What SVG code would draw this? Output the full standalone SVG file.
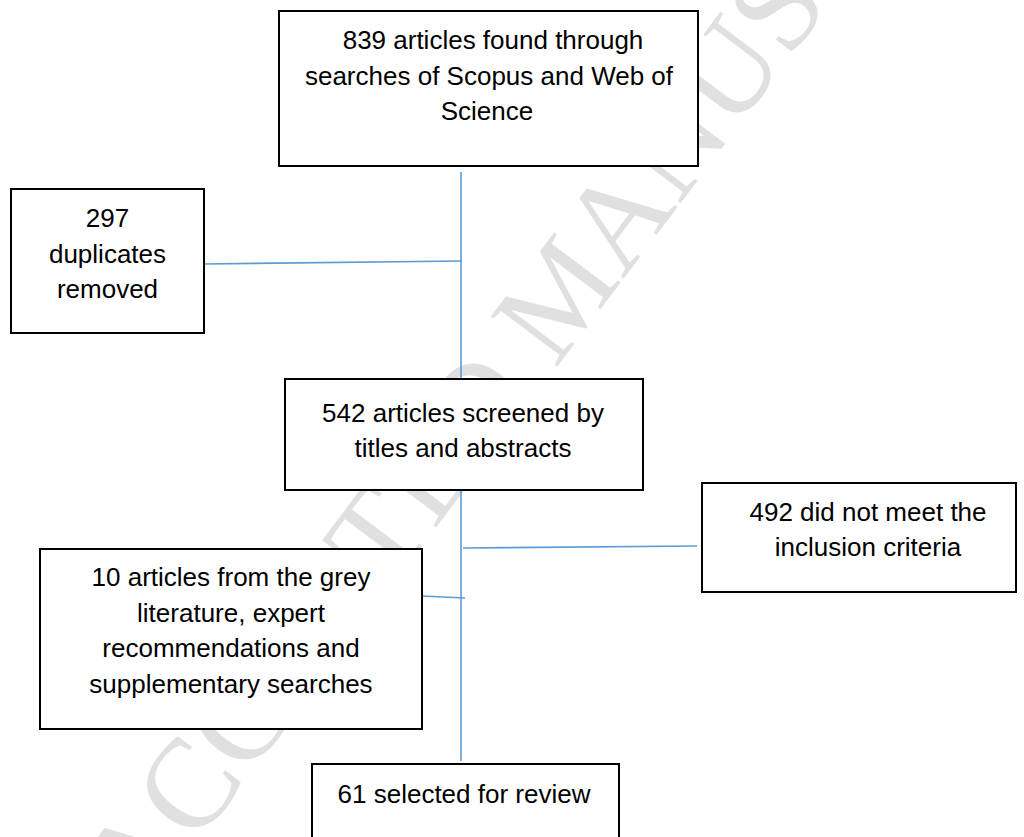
<svg xmlns="http://www.w3.org/2000/svg" width="1024" height="837" viewBox="0 0 1024 837">
  <style>
    .box { fill: #ffffff; stroke: #000000; stroke-width: 2; }
    .lbl { font-family: "Liberation Sans", Arial, sans-serif; font-size: 26px; fill: #000000; text-anchor: middle; }
    .conn { stroke: #5b9bd5; stroke-width: 1.6; fill: none; }
    .wm { font-family: "Liberation Serif", "Times New Roman", serif; font-size: 127px; fill: #e0e0e0; }
  </style>
  <rect x="0" y="0" width="1024" height="837" fill="#ffffff"/>
  <g id="watermark" transform="translate(141,919) rotate(-53)">
    <text class="wm" x="0" y="0">ACCEPTED MANUSCRIPT</text>
  </g>
  <g id="connectors">
    <line class="conn" x1="461" y1="172" x2="461" y2="761"/>
    <line class="conn" x1="204" y1="264" x2="462" y2="261"/>
    <line class="conn" x1="463" y1="548" x2="697" y2="546"/>
    <line class="conn" x1="422" y1="596" x2="465" y2="598"/>
  </g>
  <g id="n1">
    <rect class="box" x="279" y="11" width="419" height="155"/>
    <text class="lbl" x="493" y="49">839 articles found through</text>
    <text class="lbl" x="489" y="84.5">searches of Scopus and Web of</text>
    <text class="lbl" x="487" y="120">Science</text>
  </g>
  <g id="n2">
    <rect class="box" x="11" y="189" width="193" height="144"/>
    <text class="lbl" x="107.5" y="227">297</text>
    <text class="lbl" x="107.5" y="263">duplicates</text>
    <text class="lbl" x="107.5" y="298">removed</text>
  </g>
  <g id="n3">
    <rect class="box" x="285" y="379" width="358" height="111"/>
    <text class="lbl" x="463" y="422">542 articles screened by</text>
    <text class="lbl" x="463" y="457">titles and abstracts</text>
  </g>
  <g id="n4">
    <rect class="box" x="702" y="483" width="314" height="109"/>
    <text class="lbl" x="868" y="521">492 did not meet the</text>
    <text class="lbl" x="868" y="556">inclusion criteria</text>
  </g>
  <g id="n5">
    <rect class="box" x="40" y="549" width="382" height="180"/>
    <text class="lbl" x="231" y="586">10 articles from the grey</text>
    <text class="lbl" x="231" y="622">literature, expert</text>
    <text class="lbl" x="231" y="657">recommendations and</text>
    <text class="lbl" x="231" y="693">supplementary searches</text>
  </g>
  <g id="n6">
    <rect class="box" x="312" y="764" width="307" height="120"/>
    <text class="lbl" x="464" y="803">61 selected for review</text>
  </g>
</svg>
